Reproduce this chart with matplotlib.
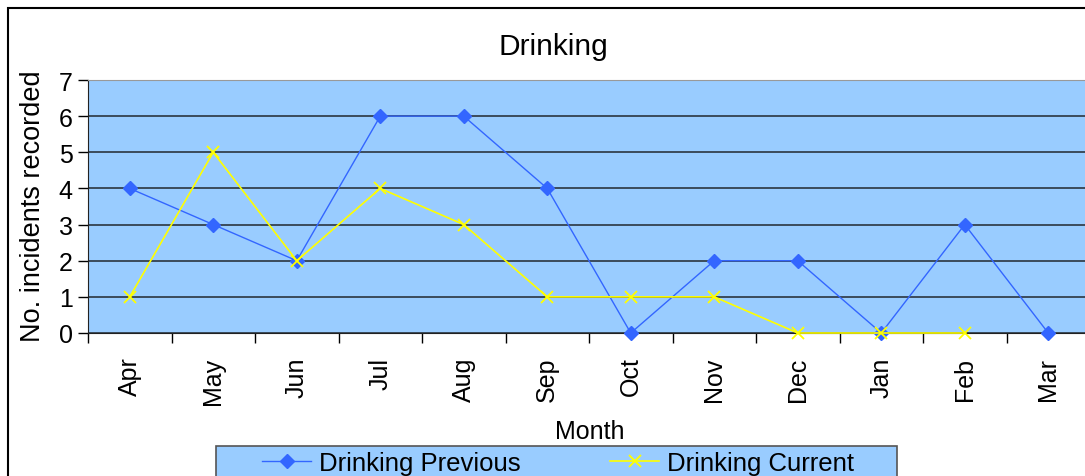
import matplotlib
matplotlib.use('Agg')
import matplotlib.pyplot as plt
from matplotlib.patches import Rectangle

months = ['Apr', 'May', 'Jun', 'Jul', 'Aug', 'Sep', 'Oct', 'Nov', 'Dec', 'Jan', 'Feb', 'Mar']
previous = [4, 3, 2, 6, 6, 4, 0, 2, 2, 0, 3, 0]
current = [1, 5, 2, 4, 3, 1, 1, 1, 0, 0, 0]

plt.rcParams['font.family'] = ['Liberation Sans', 'DejaVu Sans']

fig = plt.figure(figsize=(10.85, 4.77), dpi=100)

# outer chart border
fig.patches.append(Rectangle((8 / 1085, -0.1), 1.2, 1 - 9 / 477 + 0.1, transform=fig.transFigure,
                             fill=False, edgecolor='black', linewidth=1.5))

ax = fig.add_axes([88 / 1085, 1 - 334 / 477, 1002 / 1085, 253 / 477])
ax.set_facecolor('#99CCFF')

x = list(range(len(months)))
ax.plot(x, previous, color='#3366FF', marker='D', markersize=7, linewidth=1,
        label='Drinking Previous', clip_on=False, zorder=4)
ax.plot(x[:len(current)], current, color='#FFFF00', marker='x', markersize=8, markeredgewidth=1.3,
        linewidth=1.2, label='Drinking Current', clip_on=False, zorder=5)

ax.set_xlim(-0.5, len(months) - 0.5)
ax.set_ylim(0, 7)
ax.set_yticks(range(0, 8))
ax.set_xticks([i - 0.5 for i in range(len(months) + 1)], minor=False)
ax.set_xticklabels([''] * (len(months) + 1))
ax.set_xticks(x, minor=True)
ax.set_xticklabels(months, minor=True, rotation=90, fontsize=18)
ax.tick_params(axis='x', which='minor', length=0, pad=17)
ax.tick_params(axis='x', which='major', length=7, width=1, direction='out')
ax.tick_params(axis='y', length=7, width=1, direction='out', labelsize=18, pad=4)

ax.grid(axis='y', color='#2b3540', linewidth=1.2)
ax.set_axisbelow(True)
ax.spines['right'].set_visible(False)
ax.spines['top'].set_color('#999999')
ax.spines['left'].set_color('#222222')
ax.spines['bottom'].set_color('#222222')

fig.text(553 / 1085, 1 - 47 / 477, 'Drinking', ha='center', va='center', fontsize=21.5)
fig.text(33 / 1085, 1 - 206 / 477, 'No. incidents recorded', ha='center', va='center',
         rotation=90, fontsize=19.5)
fig.text(590 / 1085, 1 - 432 / 477, 'Month', ha='center', va='center', fontsize=18)

# legend box drawn separately, entries centred inside it
fig.patches.append(Rectangle((216 / 1085, -0.05), 681 / 1085, 1 - 447 / 477 + 0.05,
                             transform=fig.transFigure, facecolor='#99CCFF',
                             edgecolor='#555555', linewidth=1.2, zorder=-1))
leg = ax.legend(loc='upper center', bbox_to_anchor=(558 / 1085, 1 - 452 / 477),
                bbox_transform=fig.transFigure, ncol=2, fontsize=18.5,
                frameon=False, borderaxespad=0, borderpad=0, handlelength=1.9,
                handletextpad=0.3, columnspacing=3.5)

fig.savefig('out.png', dpi=100)
